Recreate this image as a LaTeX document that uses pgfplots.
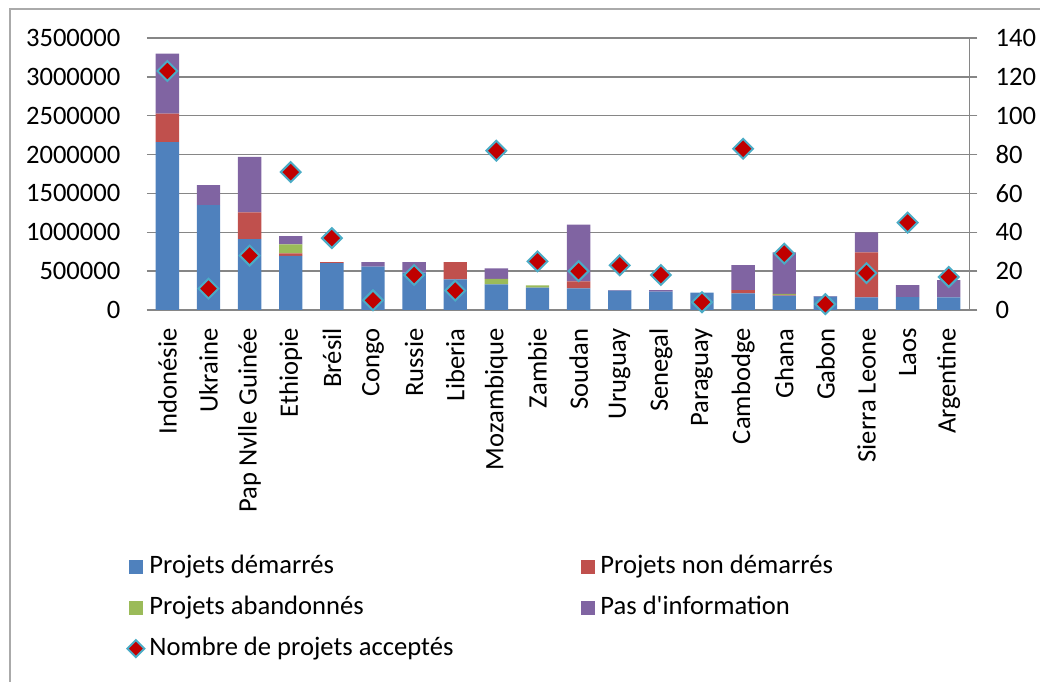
\documentclass[border=0pt]{standalone}
\usepackage{fontspec}
\setmainfont{Carlito}
\usepackage{pgfplots}
\pgfplotsset{compat=1.18}
\usepackage{pgfplotstable}

\definecolor{cblue}{HTML}{4F81BD}
\definecolor{cred}{HTML}{C0504D}
\definecolor{cgreen}{HTML}{9BBB59}
\definecolor{cpurple}{HTML}{8064A2}
\definecolor{cmark}{HTML}{C00000}
\definecolor{cedge}{HTML}{4BACC6}
\definecolor{cgrid}{HTML}{868686}

% x demarres nondemarres abandonnes pasinfo nombre
\pgfplotstableread{
x  blue    red    green  purple nb
0  2160000 368000 0      772000 123
1  1350000 0      0      257000 11
2  913000  343000 0      714000 28
3  698000  31000  115000 107000 71
4  604000  13000  0      0      37
5  557000  0      0      60000  5
6  480000  0      0      137000 18
7  394000  223000 0      0      10
8  330000  0      70000  136000 82
9  287000  0      30000  0      25
10 279000  90000  0      731000 20
11 248000  0      0      9000   23
12 235000  0      0      22000  18
13 222000  0      0      0      4
14 214000  43000  0      321000 83
15 184000  10000  12000  535000 29
16 171000  0      0      8000   3
17 163000  578000 0      257000 19
18 167000  0      0      154000 45
19 163000  0      0      223000 17
}\data

\pgfplotsset{
  common/.style={
    scale only axis, width=411.25bp, height=136bp,
    at={(73.4bp,186bp)}, anchor=south west,
    xmin=-0.5, xmax=19.5,
    /pgf/number format/assume math mode=true,
  },
  barleg/.style={legend image code/.code={\fill[##1, draw=none] (0bp,-3.5bp) rectangle (7bp,3.5bp);}},
  markleg/.style={legend image code/.code={\draw[##1, mark size=3bp] plot coordinates {(3.5bp,0bp)};}},
}

\begin{document}
\begin{tikzpicture}[font=\fontsize{13.3bp}{16bp}\selectfont]
\useasboundingbox (0,0) rectangle (520bp,341bp);
\draw[cgrid!70, line width=0.9bp] (5bp,-2bp) -- (5bp,336.5bp) -- (522bp,336.5bp);

\begin{axis}[common,
    ybar stacked, bar width=11.65bp,
    ymin=0, ymax=3500000,
    ytick={0,500000,1000000,1500000,2000000,2500000,3000000,3500000},
    scaled y ticks=false,
    /pgf/number format/.cd, fixed, set thousands separator={}, /pgfplots/.cd,
    axis x line*=bottom, axis y line*=left,
    y axis line style={draw=none},
    x axis line style={color=cgrid, line width=0.75bp, -},
    ymajorgrids, major grid style={color=cgrid, line width=0.75bp},
    ytick style={draw=none}, xtick style={draw=none},
    yticklabel style={inner sep=0pt, anchor=east},
    yticklabel shift=13bp,
    xtick={0,...,19},
    xticklabels={Indonésie, Ukraine, Pap Nvlle Guinée, Ethiopie, Brésil, Congo, Russie, Liberia, Mozambique, Zambie, Soudan, Uruguay, Senegal, Paraguay, Cambodge, Ghana, Gabon, Sierra Leone, Laos, Argentine},
    xticklabel style={rotate=90, anchor=east, inner sep=0pt},
    xticklabel shift=9bp,
  ]
  \addplot[fill=cblue, draw=none] table[x=x, y=blue] {\data};
  \addplot[fill=cred, draw=none] table[x=x, y=red] {\data};
  \addplot[fill=cgreen, draw=none] table[x=x, y=green] {\data};
  \addplot[fill=cpurple, draw=none] table[x=x, y=purple] {\data};
\end{axis}

\begin{axis}[common,
    ymin=0, ymax=140, ytick={0,20,...,140},
    axis x line=none, axis y line*=right,
    y axis line style={color=cgrid, line width=0.75bp, -},
    ytick style={color=cgrid, line width=0.75bp},
    tick align=outside, major tick length=4bp,
    yticklabel style={inner sep=0pt, anchor=west},
    yticklabel shift=9bp,
    legend columns=2, legend cell align=left,
    legend style={draw=none, fill=none, at={(-0.0313,-0.885)}, anchor=north west,
      column sep=2.5bp, /tikz/column 2/.style={column sep=64bp}, row sep=9bp,
      nodes={inner sep=0pt, text height=9bp, text depth=2.5bp}},
  ]
  \addlegendimage{barleg, fill=cblue}
  \addlegendentry{Projets démarrés}
  \addlegendimage{barleg, fill=cred}
  \addlegendentry{Projets non démarrés}
  \addlegendimage{barleg, fill=cgreen}
  \addlegendentry{Projets abandonnés}
  \addlegendimage{barleg, fill=cpurple}
  \addlegendentry{Pas d\textquotesingle information}
  \addplot[only marks, mark=square*, mark size=3.5bp,
    mark options={rotate=45, fill=cmark, draw=cedge, line width=1bp}, markleg]
    table[x=x, y=nb] {\data};
  \addlegendentry{Nombre de projets acceptés}
\end{axis}
\end{tikzpicture}
\end{document}
